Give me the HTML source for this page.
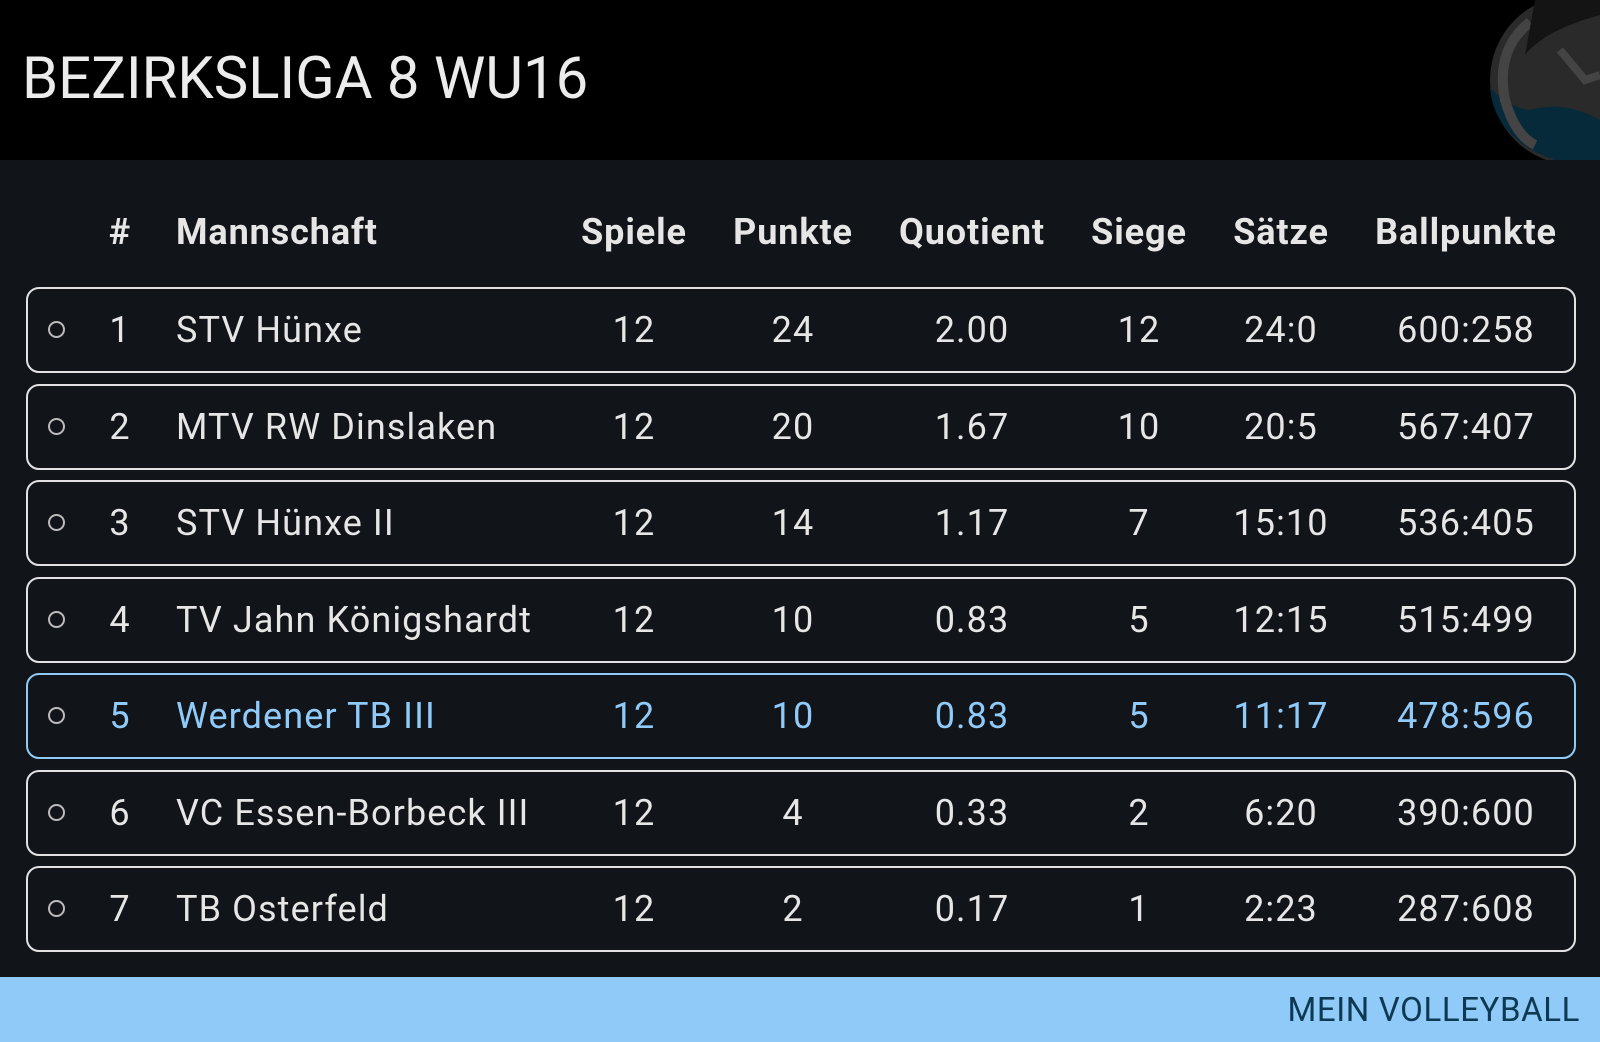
<!DOCTYPE html>
<html><head><meta charset="utf-8"><style>
*{margin:0;padding:0;box-sizing:border-box}
body{width:1600px;height:1042px;background:#111418;font-family:"Roboto","Liberation Sans",sans-serif;position:relative;overflow:hidden;color:#e6e6e6}
.hdr{position:absolute;left:0;top:0;width:1600px;height:160px;background:#000;overflow:hidden}
.title{position:absolute;left:22px;top:45px;font-size:58px;color:#ececec;letter-spacing:0}
.foot{position:absolute;left:0;top:977px;width:1600px;height:65px;background:#90caf9}
.foot span{position:absolute;right:20px;top:14px;font-size:33px;color:#0d3a52;letter-spacing:0.6px}
.c{position:absolute;text-align:center;font-size:36px;white-space:nowrap;letter-spacing:1.1px}
.th{font-weight:bold;top:211px;letter-spacing:0.9px}
.row{position:absolute;left:26px;width:1550px;height:86px;border:2.5px solid #e2e2e2;border-radius:13px}
.row.hl{border-color:#90caf9}
.dot{position:absolute;left:20px;top:32px;width:17px;height:17px;border:2px solid #bbb;border-radius:50%}
</style></head><body>
<div class="hdr">
<svg style="position:absolute;left:1455px;top:0" width="145" height="160" viewBox="0 0 145 160">
<circle cx="120" cy="80" r="85" fill="#2a2a2a"/>
<path d="M35 88 Q40 140 100 160 L145 160 L145 120 Q110 100 75 110 Q55 108 35 88Z" fill="#062a3a"/>
<path d="M75 22 Q40 50 50 100 Q60 135 80 145" stroke="#444" stroke-width="10" fill="none"/>
<path d="M105 50 L130 80 L145 75" stroke="#444" stroke-width="8" fill="none"/>
<path d="M70 55 Q90 30 145 15 L145 0 L80 0Z" fill="#141414"/>
</svg>
</div>
<div class="title">BEZIRKSLIGA 8 WU16</div>

<div class="c th" style="left:100px;width:40px">#</div>
<div class="c th" style="left:176px;text-align:left">Mannschaft</div>
<div class="c th" style="left:534px;width:200px">Spiele</div>
<div class="c th" style="left:693px;width:200px">Punkte</div>
<div class="c th" style="left:872px;width:200px">Quotient</div>
<div class="c th" style="left:1039px;width:200px">Siege</div>
<div class="c th" style="left:1181px;width:200px">Sätze</div>
<div class="c th" style="left:1356px;width:220px">Ballpunkte</div>

<div id="rows"></div>
<script>
var d=[["1","STV Hünxe","12","24","2.00","12","24:0","600:258"],
["2","MTV RW Dinslaken","12","20","1.67","10","20:5","567:407"],
["3","STV Hünxe II","12","14","1.17","7","15:10","536:405"],
["4","TV Jahn Königshardt","12","10","0.83","5","12:15","515:499"],
["5","Werdener TB III","12","10","0.83","5","11:17","478:596"],
["6","VC Essen-Borbeck III","12","4","0.33","2","6:20","390:600"],
["7","TB Osterfeld","12","2","0.17","1","2:23","287:608"]];
var cx=[634,793,972,1139,1281,1466],h="";
d.forEach(function(r,i){var t=287+i*96.5,hl=i==4,col=hl?"color:#90caf9;":"";
h+='<div class="row'+(hl?' hl':'')+'" style="top:'+t+'px"><div class="dot"></div></div>';
var ty=t+22;
h+='<div class="c" style="'+col+'left:100px;width:40px;top:'+ty+'px">'+r[0]+'</div>';
h+='<div class="c" style="'+col+'left:176px;text-align:left;top:'+ty+'px">'+r[1]+'</div>';
for(var k=0;k<6;k++)h+='<div class="c" style="'+col+'left:'+(cx[k]-100)+'px;width:200px;top:'+ty+'px">'+r[k+2]+'</div>';
});
document.getElementById("rows").innerHTML=h;
</script>
<div class="foot"><span>MEIN VOLLEYBALL</span></div>
</body></html>
